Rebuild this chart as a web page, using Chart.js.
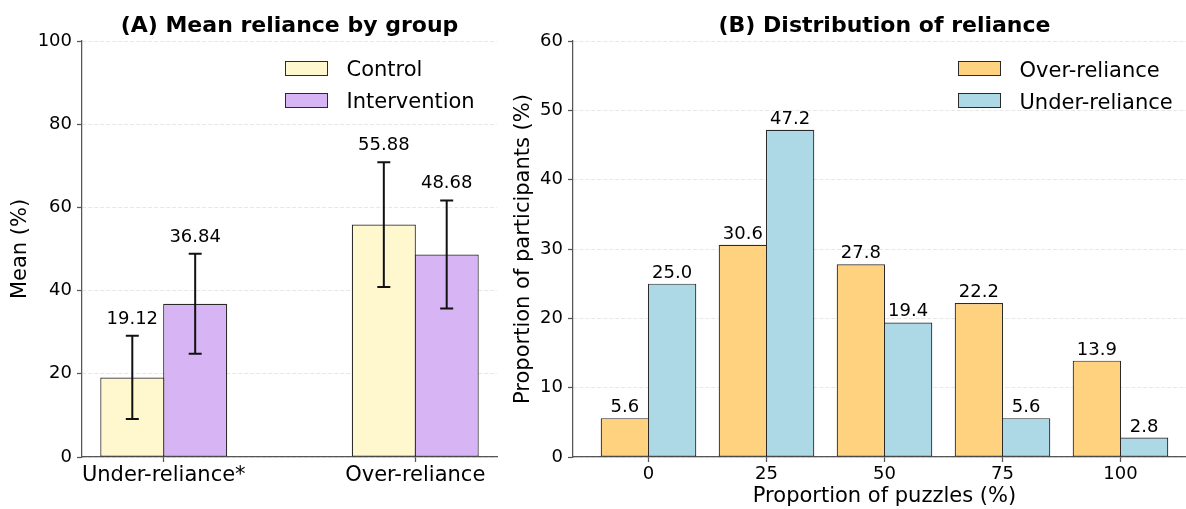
<!DOCTYPE html>
<html>
<head>
<meta charset="utf-8">
<script src="https://cdn.jsdelivr.net/npm/chart.js@4.4.1/dist/chart.umd.min.js"></script>
<style>
  html, body { margin: 0; padding: 0; overflow: hidden; background: #fff; }
  #wrap { position: relative; width: 1186px; height: 509px; overflow: hidden; font-family: "DejaVu Sans", sans-serif; }
  canvas { position: absolute; top: 0; }
  .legText { position: absolute; font-size: 21px; line-height: 24px; color: #000; white-space: nowrap; }
  .legBox { position: absolute; width: 41px; height: 13px; border: 1.5px solid #2a2a2a; }
</style>
</head>
<body>
<div id="wrap">
  <canvas id="meanChart" width="500" height="509" style="left:0px"></canvas>
  <canvas id="distChart" width="710" height="509" style="left:500px"></canvas>
</div>
<script>
'use strict';

// (A) mean reliance by group
const groupLabels = ['Under-reliance*', 'Over-reliance'];
const controlMeans = [19.12, 55.88];
const controlErr = [10.0, 15.0];
const interventionMeans = [36.84, 48.68];
const interventionErr = [12.0, 13.0];

// (B) distribution of reliance
const puzzleLabels = ['0', '25', '50', '75', '100'];
const overShare = [5.6, 30.6, 27.8, 22.2, 13.9];
const underShare = [25.0, 47.2, 19.4, 5.6, 2.8];

const colControl = '#FFF8CE';
const colIntervention = '#D7B5F5';
const colOver = '#FED27F';
const colUnder = '#ADD8E6';
const edge = '#2a2a2a';
const spine = '#555';
const edgeW = 1.2;

Chart.defaults.font.family = '"DejaVu Sans", sans-serif';
Chart.defaults.color = '#000';

// error bars drawn from each dataset's errors list
const errorBars = {
  id: 'errorBars',
  afterDatasetsDraw(chart) {
    const ctx = chart.ctx;
    const y = chart.scales.y;
    ctx.save();
    ctx.strokeStyle = '#111';
    ctx.lineWidth = 2;
    chart.data.datasets.forEach((ds, i) => {
      if (!ds.errors) return;
      chart.getDatasetMeta(i).data.forEach((bar, j) => {
        const v = ds.data[j].y;
        const e = ds.errors[j];
        const top = y.getPixelForValue(v + e);
        const bot = y.getPixelForValue(v - e);
        ctx.beginPath();
        ctx.moveTo(bar.x, top); ctx.lineTo(bar.x, bot);
        ctx.moveTo(bar.x - 6.5, top); ctx.lineTo(bar.x + 6.5, top);
        ctx.moveTo(bar.x - 6.5, bot); ctx.lineTo(bar.x + 6.5, bot);
        ctx.stroke();
      });
    });
    ctx.restore();
  }
};

// value text above each bar (or above its error bar)
const barText = {
  id: 'barText',
  afterDatasetsDraw(chart, args, opts) {
    const ctx = chart.ctx;
    const y = chart.scales.y;
    ctx.save();
    ctx.font = '18px "DejaVu Sans"';
    ctx.fillStyle = '#000';
    ctx.textAlign = 'center';
    ctx.textBaseline = 'alphabetic';
    chart.data.datasets.forEach((ds, i) => {
      chart.getDatasetMeta(i).data.forEach((bar, j) => {
        const v = ds.data[j].y;
        const top = y.getPixelForValue(v + (ds.errors ? ds.errors[j] : 0));
        ctx.fillText(v.toFixed(opts.digits), bar.x, top - opts.gap);
      });
    });
    ctx.restore();
  }
};

function toPoints(values) {
  return values.map((v, i) => ({ x: i, y: v }));
}

function makeY(max, step, axisWidth, titleText, titleTop) {
  return {
    min: 0,
    max: max,
    afterFit: (s) => { s.width = axisWidth; },
    ticks: { stepSize: step, font: { size: 18 }, padding: 5, color: '#000' },
    grid: {
      color: 'rgba(0,0,0,0.12)', lineWidth: 0.8,
      drawTicks: true, tickLength: 5, tickColor: spine, tickWidth: 1.25, tickBorderDash: []
    },
    border: { display: true, color: spine, width: 1.25, dash: [4, 2] },
    title: {
      display: true, text: titleText, font: { size: 21 }, color: '#000',
      padding: { top: titleTop, bottom: 0 }
    }
  };
}

function makeX(min, max, labels, fontSize, pad, titleText) {
  return {
    type: 'linear',
    min: min,
    max: max,
    offset: false,
    afterFit: (s) => { s.height = 52; },
    afterBuildTicks: (s) => { s.ticks = labels.map((l, i) => ({ value: i })); },
    ticks: {
      font: { size: fontSize }, padding: pad, color: '#000', maxRotation: 0, autoSkip: false,
      callback: (v) => labels[v]
    },
    grid: {
      offset: false, drawOnChartArea: false, drawTicks: true,
      tickLength: 5, tickColor: spine, tickWidth: 1.25
    },
    border: { display: true, color: spine, width: 1.25 },
    title: {
      display: !!titleText, text: titleText || '', font: { size: 21 }, color: '#000',
      padding: { top: 0, bottom: 0 }
    }
  };
}

// barPercentage a bit over 1 so neighbouring edges overlap into one line
function barSet(label, values, color, catPct, barPx, errors) {
  const ds = {
    label: label,
    data: toPoints(values),
    backgroundColor: color,
    borderColor: edge,
    borderWidth: edgeW,
    borderSkipped: false,
    categoryPercentage: catPct,
    barPercentage: (barPx + edgeW) / barPx
  };
  if (errors) ds.errors = errors;
  return ds;
}

const meanSets = [
  barSet('Control', controlMeans, colControl, 0.5, 63, controlErr),
  barSet('Intervention', interventionMeans, colIntervention, 0.5, 63, interventionErr)
];

new Chart(document.getElementById('meanChart'), {
  type: 'bar',
  data: { datasets: meanSets },
  options: {
    responsive: false,
    animation: false,
    events: [],
    layout: { padding: { left: 0, right: 3, top: 0, bottom: 0 } },
    scales: {
      x: makeX(-0.325, 1.325, groupLabels, 21, 1, ''),
      y: makeY(100, 20, 82, 'Mean (%)', 8)
    },
    plugins: {
      legend: { display: false },
      tooltip: { enabled: false },
      title: {
        display: true, text: '(A) Mean reliance by group', fullSize: false,
        font: { size: 22, weight: 'bold' }, color: '#000',
        padding: { top: 13, bottom: 1.6 }
      },
      barText: { digits: 2, gap: 12 }
    }
  },
  plugins: [errorBars, barText]
});

const distSets = [
  barSet('Over-reliance', overShare, colOver, 0.8, 47.2),
  barSet('Under-reliance', underShare, colUnder, 0.8, 47.2)
];

new Chart(document.getElementById('distChart'), {
  type: 'bar',
  data: { datasets: distSets },
  options: {
    responsive: false,
    animation: false,
    events: [],
    layout: { padding: { left: 0, right: 14, top: 0, bottom: 0 } },
    scales: {
      x: makeX(-0.64, 4.64, puzzleLabels, 18, 2, 'Proportion of puzzles (%)'),
      y: makeY(60, 10, 73, 'Proportion of participants (%)', 11)
    },
    plugins: {
      legend: { display: false },
      tooltip: { enabled: false },
      title: {
        display: true, text: '(B) Distribution of reliance', fullSize: false,
        font: { size: 22, weight: 'bold' }, color: '#000',
        padding: { top: 13, bottom: 1.6 }
      },
      barText: { digits: 1, gap: 6 }
    }
  },
  plugins: [barText]
});

// legends, upper right of each panel
function addLegend(sets, boxLeft, top) {
  const wrap = document.getElementById('wrap');
  sets.forEach((ds, i) => {
    const rowMid = top + i * 32;
    const box = document.createElement('div');
    box.className = 'legBox';
    box.style.left = boxLeft + 'px';
    box.style.top = (rowMid - 8) + 'px';
    box.style.background = ds.backgroundColor;
    wrap.appendChild(box);
    const txt = document.createElement('div');
    txt.className = 'legText';
    txt.style.left = (boxLeft + 62) + 'px';
    txt.style.top = (rowMid - 11.6) + 'px';
    txt.textContent = ds.label;
    wrap.appendChild(txt);
  });
}
addLegend(meanSets, 284.5, 69);
addLegend(distSets, 957.5, 69.3);
</script>
</body>
</html>
